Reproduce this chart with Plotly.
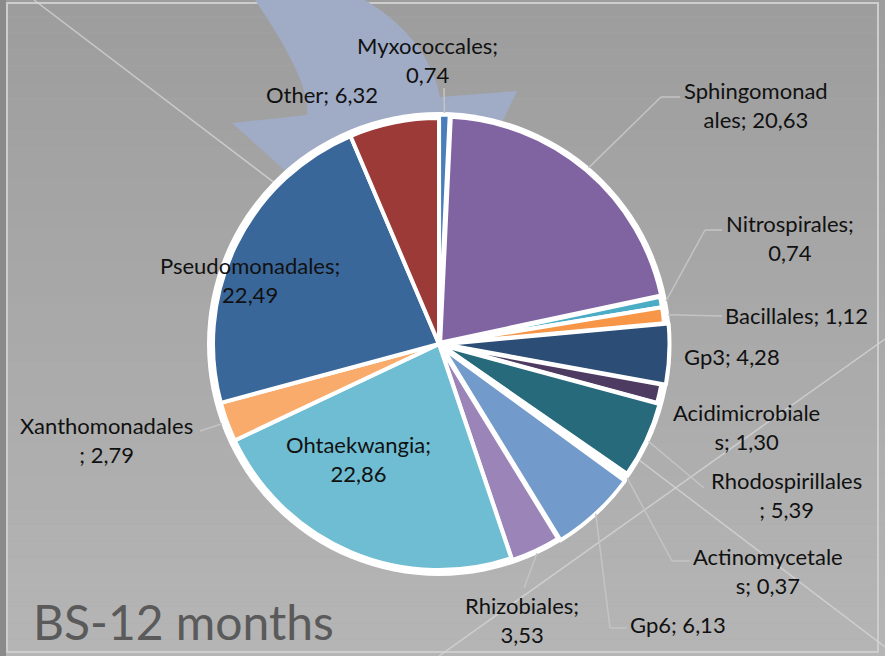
import math
import plotly.graph_objects as go

W, H = 885, 656

# ---- data ----
orders = ["Myxococcales", "Sphingomonadales", "Nitrospirales", "Bacillales", "Gp3",
          "Acidimicrobiales", "Rhodospirillales", "Actinomycetales", "Gp6", "Rhizobiales",
          "Ohtaekwangia", "Xanthomonadales", "Pseudomonadales", "Other"]
values = [0.74, 20.63, 0.74, 1.12, 4.28, 1.30, 5.39, 0.37, 6.13, 3.53, 22.86, 2.79, 22.49, 6.32]
colors = ["#4a7ebb", "#8064a2", "#4bacc6", "#f79646", "#2c4d75", "#4d3b62", "#276a7c",
          "#ffffff", "#729aca", "#9b85b8", "#6fbdd2", "#f9ab6b", "#3a679a", "#9c3a38"]
pulls = [0.015, 0.008, 0, 0, 0.02, 0, 0.012, 0, 0.022, 0.01, 0, 0, 0, 0]
wrap_at = [13, 12, 14, None, None, 15, 16, 14, None, 12, 13, 15, 16, None]
# label anchor positions (px) and leader-line elbow/end points (px)
label_pos = [(427, 60), (756, 105), (790, 238), (796, 315), (732, 356), (746, 427),
             (786, 495), (768, 571), (678, 624), (522, 620), (358, 459), (106, 440),
             (250, 280), (322, 95)]
leader_pts = [[(444, 88)], [(661, 97), (680, 97)], [(705, 230), (722, 230)], [(722, 316)],
              None, None, [(704, 488)], [(672, 561), (690, 561)], [(610, 628), (627, 628)],
              [(524, 588)], None, [(200, 431)], None, None]
title_text = "BS-12 months"

# ---- geometry ----
cx, cy, R = 439, 344, 226
maxpull = max(pulls)
half = R * (1 + maxpull)
dom_x = [(cx - half) / W, (cx + half) / W]
dom_y = [(H - cy - half) / H, (H - cy + half) / H]


def px(x, y):
    return x / W, 1 - y / H


shapes = []
# gradient background
top_c, bot_c = (157, 157, 157), (181, 181, 181)
nb = 40
for i in range(nb):
    t = i / (nb - 1)
    c = tuple(round(top_c[k] + (bot_c[k] - top_c[k]) * t) for k in range(3))
    shapes.append(dict(type="rect", xref="paper", yref="paper", layer="below",
                       x0=0, x1=1, y0=1 - (i + 1) / nb, y1=1 - i / nb,
                       fillcolor="rgb(%d,%d,%d)" % c, line=dict(width=0)))
# left dark strip and frame
shapes.append(dict(type="rect", xref="paper", yref="paper", layer="below",
                   x0=0, x1=6 / W, y0=0, y1=1, fillcolor="#8a8a8a", line=dict(width=0)))
x0, y0 = px(7, 3)
x1, y1 = px(878, 652)
shapes.append(dict(type="rect", xref="paper", yref="paper", layer="below",
                   x0=x0, x1=x1, y0=y1, y1=y0, line=dict(color="#cdcdcd", width=2)))
# decorative diagonal lines
for (a, b) in [((34, 0), (885, 647)), ((439, 656), (885, 339))]:
    ax, ay = px(*a)
    bx, by = px(*b)
    shapes.append(dict(type="line", xref="paper", yref="paper", layer="below",
                       x0=ax, y0=ay, x1=bx, y1=by,
                       line=dict(color="rgba(215,215,215,0.75)", width=1.5)))
# curved arrow
def P(x, y):
    a, b = px(x, y)
    return "%.4f,%.4f" % (a, b)

path = ("M " + P(255, 0) + " Q " + P(311, 82) + " " + P(307, 115) +
        " L " + P(232, 123) + " L " + P(421, 293) + " L " + P(517, 91) +
        " L " + P(440, 97) + " Q " + P(428, 38) + " " + P(365, 0) + " Z")
shapes.append(dict(type="path", xref="paper", yref="paper", layer="below", path=path,
                   fillcolor="#a0abc6", line=dict(width=0)))
# white disc behind the pie
rw = R + 6
dx0, dy0 = px(cx - rw, cy - rw)
dx1, dy1 = px(cx + rw, cy + rw)
shapes.append(dict(type="circle", xref="paper", yref="paper", layer="below",
                   x0=dx0, x1=dx1, y0=dy1, y1=dy0, fillcolor="white", line=dict(width=0)))

# leader lines, starting at the slice edge (mid-angle computed from data)
total = sum(values)
cum = 0
annotations = []
for i, (name, v) in enumerate(zip(orders, values)):
    mid = (cum + v / 2) / total * 2 * math.pi
    cum += v
    if leader_pts[i]:
        sx = cx + (R + 5) * math.sin(mid)
        sy = cy - (R + 5) * math.cos(mid)
        pts = [(sx, sy)] + leader_pts[i]
        for (p, q) in zip(pts[:-1], pts[1:]):
            ax, ay = px(*p)
            bx, by = px(*q)
            shapes.append(dict(type="line", xref="paper", yref="paper", layer="above",
                               x0=ax, y0=ay, x1=bx, y1=by,
                               line=dict(color="#c4c4c4", width=1.5)))
    txt = ("%s; %.2f" % (name, v)).replace(".", ",")
    if wrap_at[i]:
        txt = txt[:wrap_at[i]].rstrip() + "<br>" + txt[wrap_at[i]:].lstrip()
    lx, ly = px(*label_pos[i])
    annotations.append(dict(x=lx, y=ly, xref="paper", yref="paper", text=txt,
                            showarrow=False, xanchor="center", yanchor="middle",
                            align="center",
                            font=dict(family="Lato", size=22, color="#111111")))

tx, ty = px(31, 621)
annotations.append(dict(x=tx, y=ty, xref="paper", yref="paper", text=title_text,
                        showarrow=False, xanchor="left", yanchor="middle",
                        font=dict(family="Lato", size=48, color="#5a5a5a")))

fig = go.Figure(go.Pie(
    labels=orders, values=values, sort=False, direction="clockwise", rotation=0,
    textinfo="none", hoverinfo="label+value", pull=pulls,
    marker=dict(colors=colors, line=dict(color="white", width=4)),
    domain=dict(x=dom_x, y=dom_y), showlegend=False,
))
fig.update_layout(width=W, height=H, margin=dict(l=0, r=0, t=0, b=0),
                  paper_bgcolor="#a8a8a8", plot_bgcolor="#a8a8a8",
                  shapes=shapes, annotations=annotations, showlegend=False)
fig.write_html("out.html", config={"displayModeBar": False},
               post_script="document.body.style.margin='0';document.body.style.padding='0';")
